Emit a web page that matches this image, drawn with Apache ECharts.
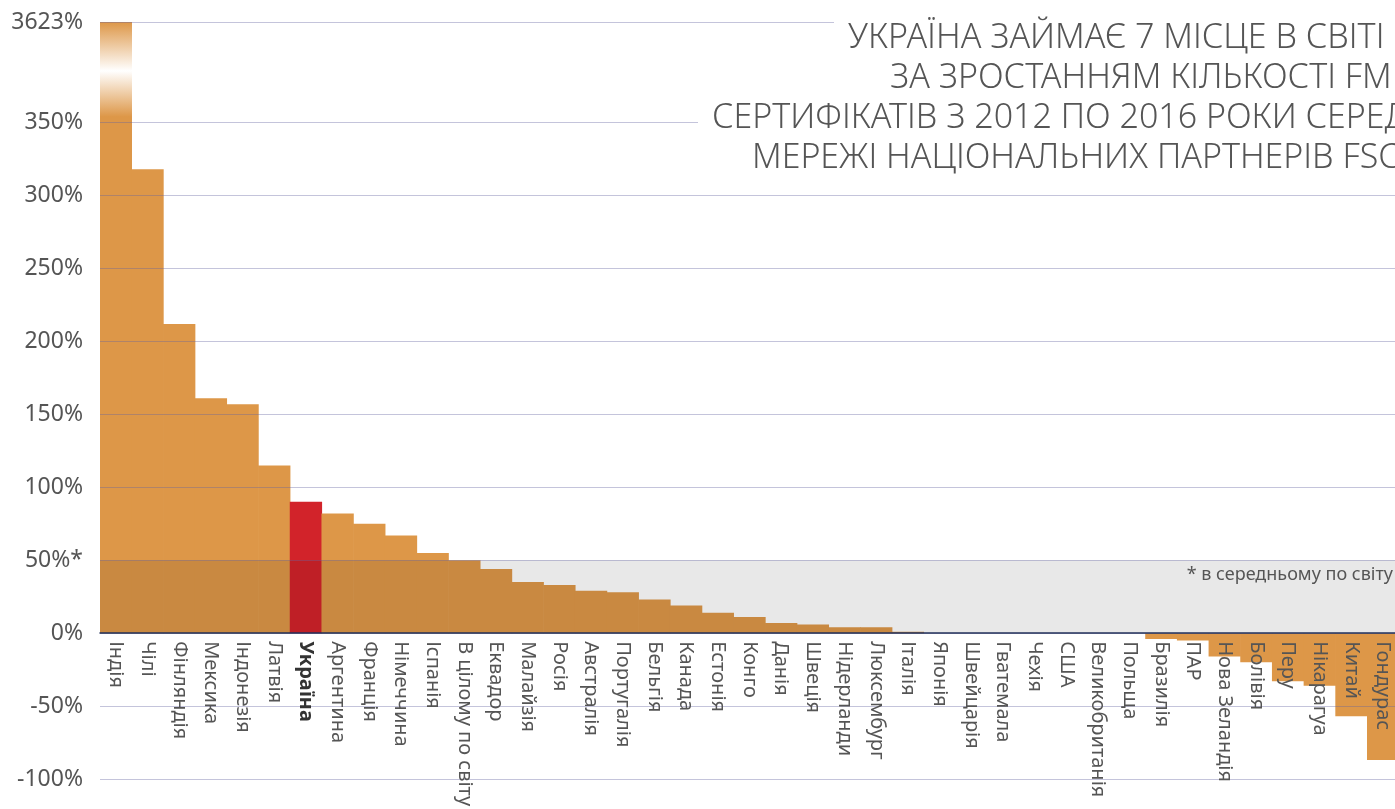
<!DOCTYPE html>
<html><head><meta charset="utf-8">
<script src="https://cdn.jsdelivr.net/npm/echarts@6/dist/echarts.min.js"></script>
<style>html,body{margin:0;padding:0;background:#fff}#c{width:1395px;height:809px}</style>
</head><body><div id="c"></div>
<script>
// ---- data ----
const categories = ['Індія','Чілі','Фінляндія','Мексика','Індонезія','Латвія','Україна','Аргентина','Франція','Німеччина','Іспанія','В цілому по світу','Еквадор','Малайзія','Росія','Австралія','Португалія','Бельгія','Канада','Естонія','Конго','Данія','Швеція','Нідерланди','Люксембург','Італія','Японія','Швейцарія','Гватемала','Чехія','США','Великобританія','Польща','Бразилія','ПАР','Нова Зеландія','Болівія','Перу','Нікарагуа','Китай','Гондурас'];
const values = [3623,318,212,161,157,115,90,82,75,67,55,50,44,35,33,29,28,23,19,14,11,7,6,4,4,1,0,0,0,0,0,0,0,-4,-5,-16,-20,-33,-36,-57,-87];
const highlight = 'Україна';
const averageName = 'В цілому по світу';
const axisMin = -100;
const axisTop = 419;            // broken axis: top of the plot stands for the largest value
const yTickValues = [-100,-50,0,50,100,150,200,250,300,350,419];
const yTickLabels = ['-100%','-50%','0%','50%*','100%','150%','200%','250%','300%','350%','3623%'];
const titleLines = ['УКРАЇНА ЗАЙМАЄ 7 МІСЦЕ В СВІТІ','ЗА ЗРОСТАННЯМ КІЛЬКОСТІ FM','СЕРТИФІКАТІВ З 2012 ПО 2016 РОКИ СЕРЕД','МЕРЕЖІ НАЦІОНАЛЬНИХ ПАРТНЕРІВ FSC'];
const averageNote = '* в середньому по світу';

// ---- style ----
const FONT = '"Noto Sans", "DejaVu Sans", sans-serif';
const ORANGE = '#DD9748';
const RED = '#D2232A';
const worldAverage = values[categories.indexOf(averageName)];

const seriesData = values.map((v, i) => {
  if (categories[i] === highlight) return { value: v, itemStyle: { color: RED } };
  if (v > axisTop) return { value: v, itemStyle: { color: {
    type: 'linear', x: 0, y: 0, x2: 0, y2: 1,
    colorStops: [
      { offset: 0, color: ORANGE },
      { offset: 0.08, color: '#ffffff' },
      { offset: 0.155, color: ORANGE },
      { offset: 1, color: ORANGE }
    ] } } };
  return v;
});

const titleLeft = [834, 876, 698, 738];
const chart = echarts.init(document.getElementById('c'), null, { renderer: 'canvas' });
chart.setOption({
  animation: false,
  backgroundColor: '#fff',
  title: titleLines.map((t, i) => ({
    text: t, left: titleLeft[i], top: 18 + 40 * i,
    padding: [0, 14, 0, 14], backgroundColor: '#fff', z: 6,
    textStyle: { fontSize: 34, lineHeight: 40, color: '#555', fontWeight: 300, fontFamily: FONT }
  })),
  grid: { left: 100, right: -4, top: 22, bottom: 30, containLabel: false, outerBoundsMode: 'none' },
  xAxis: {
    type: 'category', data: categories, z: 5, position: 'bottom',
    axisLine: { onZero: false, lineStyle: { color: '#22305a', width: 1.5 } },
    axisTick: { show: false },
    splitLine: { show: false },
    axisLabel: {
      interval: 0, rotate: -90, margin: 8, fontSize: 20, color: '#555', fontFamily: FONT,
      hideOverlap: false,
      formatter: v => v === highlight ? '{hl|' + v + '}' : v,
      rich: { hl: { fontWeight: 'bold', color: '#333', fontSize: 20, fontFamily: FONT } }
    }
  },
  yAxis: {
    type: 'value', min: axisMin, max: axisTop, z: 4,
    axisLine: { show: false },
    axisTick: { show: false, customValues: yTickValues },
    axisLabel: {
      customValues: yTickValues, fontSize: 23, color: '#555', margin: 17, fontFamily: FONT,
      formatter: v => { const k = yTickValues.indexOf(v); return k >= 0 ? yTickLabels[k] : ''; }
    },
    splitLine: { show: true, lineStyle: { color: 'rgba(100,100,160,0.38)', width: 1 } }
  },
  series: [{
    type: 'bar', data: seriesData, barWidth: '102%', clip: true, z: 2,
    itemStyle: { color: ORANGE },
    markArea: {
      silent: true, z: 3,
      itemStyle: { color: 'rgba(0,0,0,0.09)' },
      label: { show: true, position: 'insideTopRight', formatter: averageNote, color: '#555', fontSize: 18, fontFamily: FONT, distance: 6 },
      data: [[{ yAxis: 0 }, { yAxis: worldAverage }]]
    }
  }]
});
// move the category axis (line + labels) up to the value 0 using the value scale
const yZero = chart.convertToPixel({ yAxisIndex: 0 }, 0);
const yBottom = chart.convertToPixel({ yAxisIndex: 0 }, axisMin);
chart.setOption({ xAxis: { offset: -(yBottom - yZero) } });
</script>
</body></html>
